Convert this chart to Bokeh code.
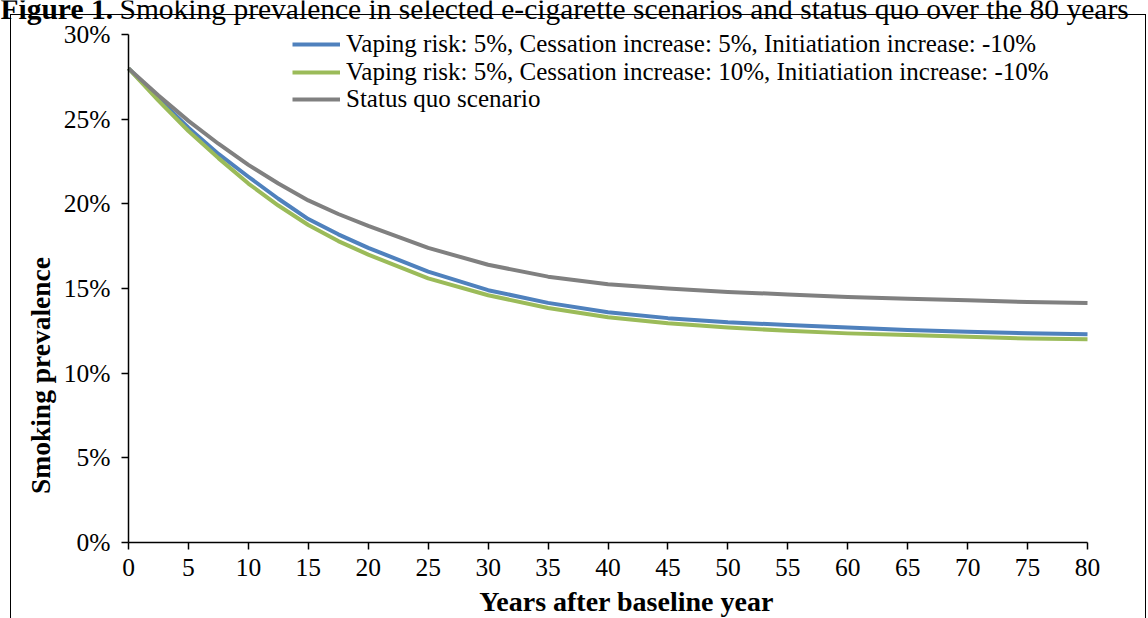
import math
from bokeh.plotting import figure
from bokeh.models import (Range1d, FixedTicker, PrintfTickFormatter, Legend, LegendItem,
                          Label, InlineStyleSheet)
from bokeh.embed import file_html
from bokeh.resources import INLINE

# ---- data ----
years = [0, 2.5, 5, 7.5, 10, 12.5, 15, 17.5, 20, 25, 30, 35, 40, 45, 50, 55, 60, 65, 70, 75, 80]
cess5 = [28.0, 26.2, 24.5, 22.95, 21.6, 20.3, 19.1, 18.2, 17.4, 16.0, 14.9, 14.15, 13.6, 13.25,
         13.0, 12.85, 12.7, 12.55, 12.45, 12.35, 12.3]
cess10 = [28.0, 26.1, 24.3, 22.7, 21.2, 19.9, 18.75, 17.8, 17.0, 15.6, 14.6, 13.85, 13.3, 12.95,
          12.7, 12.5, 12.35, 12.25, 12.15, 12.05, 12.0]
status_quo = [28.0, 26.4, 24.9, 23.55, 22.3, 21.2, 20.2, 19.4, 18.7, 17.4, 16.4, 15.7, 15.25, 15.0,
              14.8, 14.65, 14.5, 14.4, 14.3, 14.2, 14.15]
series_names = [
    "Vaping risk: 5%, Cessation increase: 5%, Initiatiation increase: -10%",
    "Vaping risk: 5%, Cessation increase: 10%, Initiatiation increase: -10%",
    "Status quo scenario",
]
x_ticks = list(range(0, 81, 5))
y_ticks = [0, 5, 10, 15, 20, 25, 30]
title_bold = "Figure 1."
title_rest = "Smoking prevalence in selected e-cigarette scenarios and status quo over the 80 years"
x_title = "Years after baseline year"
y_title = "Smoking prevalence"

colors = ["#4F81BD", "#9BBB59", "#808080"]
FONT = "Liberation Serif"

# canvas geometry: where the data area (0..80 years, 0..30 %) sits on the canvas
W, H = 1148, 618
X0, X80 = 128, 1087     # canvas x of 0 and 80 years
Y0, Y30 = 542, 34       # canvas y of 0 % and 30 %
PX_X = (X80 - X0) / 80.0
PX_Y = (Y0 - Y30) / 30.0


def dx(px):  # canvas x -> data x
    return (px - X0) / PX_X


def dy(py):  # canvas y -> data y
    return (Y0 - py) / PX_Y


p = figure(width=W, height=H, output_backend="svg", toolbar_location=None,
           x_range=Range1d(dx(0), dx(W)), y_range=Range1d(dy(H), dy(0)),
           min_border_left=0, min_border_right=0, min_border_top=0, min_border_bottom=0)
p.grid.visible = False
p.outline_line_color = None
p.background_fill_color = "white"
p.border_fill_color = "white"

xa, ya = p.xaxis[0], p.yaxis[0]
xa.fixed_location = 0
ya.fixed_location = 0
xa.bounds = (0, 80)
ya.bounds = (0, 30)
for ax in (xa, ya):
    ax.axis_line_color = "black"
    ax.axis_line_width = 1.5
    ax.major_tick_line_color = "black"
    ax.major_tick_line_width = 1.5
    ax.major_tick_out = 7
    ax.major_tick_in = 0
    ax.minor_tick_line_color = None
    ax.major_label_text_font = FONT
    ax.major_label_text_font_size = "25.5px"
    ax.major_label_text_color = "black"

xa.ticker = FixedTicker(ticks=x_ticks)
xa.major_label_standoff = 9
ya.ticker = FixedTicker(ticks=y_ticks)
ya.formatter = PrintfTickFormatter(format="%d%%")
ya.major_label_standoff = 11

renderers = []
for ys, c in zip([cess5, cess10, status_quo], colors):
    r = p.line(years, ys, line_color=c, line_width=4, line_join="round")
    renderers.append(r)

# one legend per entry so each row sits where the reference has it
row_centers = [44, 72, 99]
ITEM_H = 28
for name, r, cy in zip(series_names, renderers, row_centers):
    lg = Legend(items=[LegendItem(label=name, renderers=[r])],
                location=(292, H - cy - ITEM_H / 2), orientation="vertical",
                label_text_font=FONT, label_text_font_size="25px", label_text_color="black",
                glyph_width=48, glyph_height=ITEM_H, label_height=ITEM_H, label_standoff=6,
                spacing=0, padding=0, margin=0,
                border_line_color=None, background_fill_alpha=0)
    p.add_layout(lg)

# surrounding frame box (decoration of the reference picture)
p.stylesheets = [InlineStyleSheet(css="""
:host { position: relative; }
:host::after {
  content: ""; position: absolute; left: 10px; top: 14px; width: 1136px; height: 604px;
  box-sizing: border-box; border: 1.5px solid black; border-bottom: none;
  pointer-events: none;
}
""")]

# titles
p.add_layout(Label(x=dx(0), y=dy(8), text=title_bold, text_font=FONT, text_font_size="29.5px",
                   text_font_style="bold", text_color="black", text_baseline="alphabetic"))
p.add_layout(Label(x=dx(119), y=dy(8), text=title_rest, text_font=FONT, text_font_size="29.5px",
                   text_color="black", text_baseline="alphabetic"))
p.add_layout(Label(x=dx(40), y=dy(375), text=y_title, text_font=FONT, text_font_size="27.5px",
                   text_font_style="bold", text_color="black", angle=math.pi / 2,
                   text_align="center", text_baseline="middle"))
p.add_layout(Label(x=dx(626), y=dy(601), text=x_title, text_font=FONT, text_font_size="28px",
                   text_font_style="bold", text_color="black",
                   text_align="center", text_baseline="middle"))

open("out.html", "w").write(file_html(p, INLINE))
